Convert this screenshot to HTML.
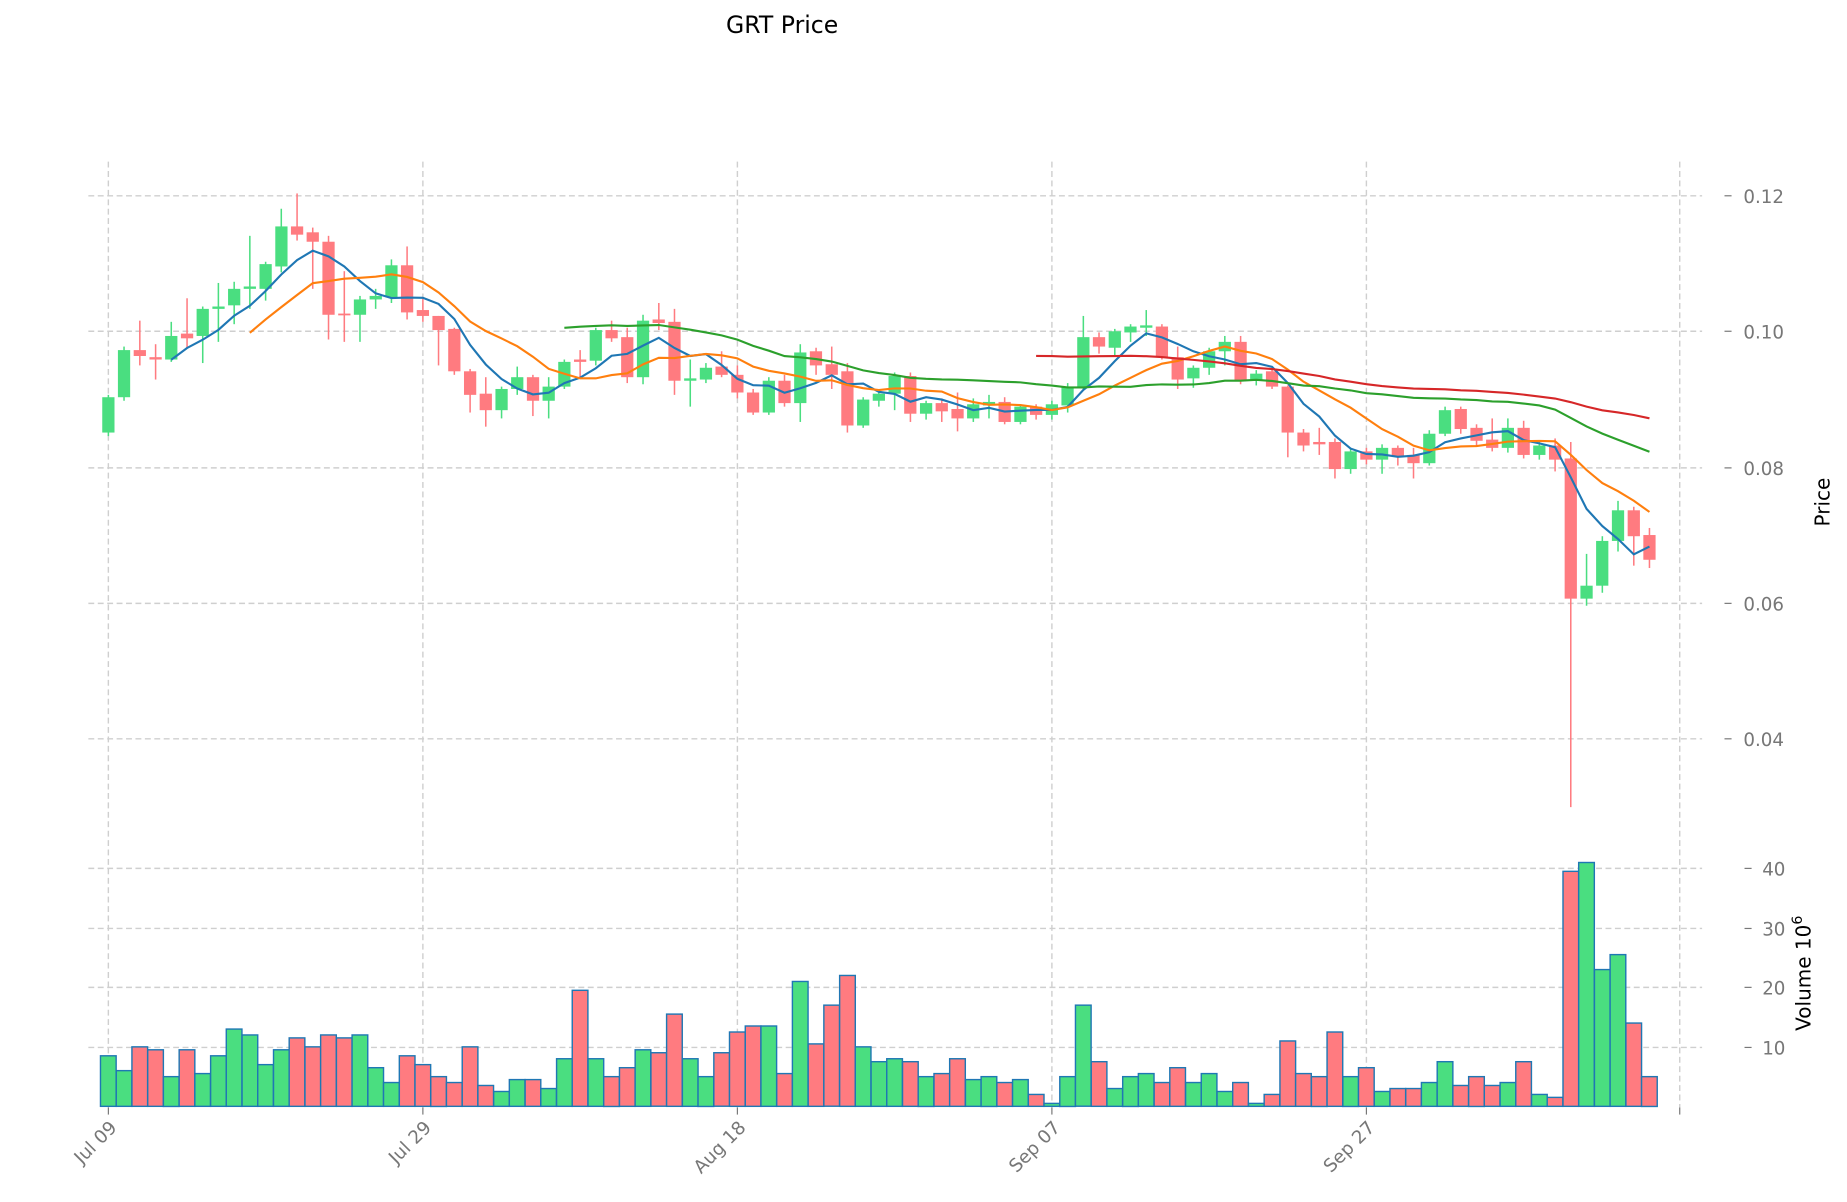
<!DOCTYPE html>
<html><head><meta charset="utf-8"><style>
html,body{margin:0;padding:0;background:#fff}
svg{display:block}
text{font-family:"DejaVu Sans","Liberation Sans",sans-serif}
</style></head><body>
<svg id="c" width="1847" height="1202" viewBox="0 0 1568 1020" xmlns="http://www.w3.org/2000/svg">
<rect width="1568" height="1020" fill="#fff"/>
<g id="grid" stroke="#cfcfcf" stroke-width="1.2" stroke-dasharray="5,3" fill="none">
<line x1="75" x2="1445" y1="166" y2="166"/>
<line x1="75" x2="1445" y1="281" y2="281"/>
<line x1="75" x2="1445" y1="397" y2="397"/>
<line x1="75" x2="1445" y1="512" y2="512"/>
<line x1="75" x2="1445" y1="627" y2="627"/>
<line x1="75" x2="1445" y1="737" y2="737"/>
<line x1="75" x2="1445" y1="788" y2="788"/>
<line x1="75" x2="1445" y1="838" y2="838"/>
<line x1="75" x2="1445" y1="889" y2="889"/>
<line x1="92" x2="92" y1="137" y2="940"/>
<line x1="359" x2="359" y1="137" y2="940"/>
<line x1="626" x2="626" y1="137" y2="940"/>
<line x1="893" x2="893" y1="137" y2="940"/>
<line x1="1160" x2="1160" y1="137" y2="940"/>
<line x1="1426" x2="1426" y1="137" y2="940"/>
</g>
<g id="plot"></g>
<g fill="#777" font-size="15.5">
<text x="1480" y="172">0.12</text>
<text x="1480" y="287">0.10</text>
<text x="1480" y="403">0.08</text>
<text x="1480" y="518">0.06</text>
<text x="1480" y="633">0.04</text>
<text x="1496" y="743">40</text>
<text x="1496" y="794">30</text>
<text x="1496" y="844">20</text>
<text x="1496" y="895">10</text>
</g>
<g stroke="#777" stroke-width="1">
<line x1="1464" x2="1470" y1="166" y2="166"/><line x1="1464" x2="1470" y1="281" y2="281"/>
<line x1="1464" x2="1470" y1="397" y2="397"/><line x1="1464" x2="1470" y1="512" y2="512"/>
<line x1="1464" x2="1470" y1="627" y2="627"/><line x1="1481" x2="1487" y1="737" y2="737"/>
<line x1="1481" x2="1487" y1="788" y2="788"/><line x1="1481" x2="1487" y1="838" y2="838"/>
<line x1="1481" x2="1487" y1="889" y2="889"/>
<line x1="92" x2="92" y1="940" y2="946"/><line x1="359" x2="359" y1="940" y2="946"/>
<line x1="626" x2="626" y1="940" y2="946"/><line x1="893" x2="893" y1="940" y2="946"/>
<line x1="1160" x2="1160" y1="940" y2="946"/><line x1="1426" x2="1426" y1="940" y2="946"/>
</g>
<g fill="#777" font-size="15.5" text-anchor="end">
<text transform="translate(100,958) rotate(-45)">Jul 09</text>
<text transform="translate(367,958) rotate(-45)">Jul 29</text>
<text transform="translate(634,958) rotate(-45)">Aug 18</text>
<text transform="translate(901,958) rotate(-45)">Sep 07</text>
<text transform="translate(1168,958) rotate(-45)">Sep 27</text>
</g>
<text x="664" y="28" font-size="20" text-anchor="middle" fill="#000">GRT Price</text>
<text transform="translate(1553,426) rotate(-90)" font-size="17" text-anchor="middle" fill="#000">Price</text>
<text transform="translate(1537,826) rotate(-90)" font-size="17" text-anchor="middle" fill="#000">Volume  10<tspan font-size="12" dy="-7">6</tspan></text>
</svg>
<script>
var D=[
[367,337,335,370,8.5],[337,297,294,340,6],[297,302,272,310,10],[303,305,292,322,9.5],[305,285,273,307,5],
[283,287,253,295,9.5],[285,262,260,308,5.5],[262,260,240,290,8.5],[259,245,239,275,13],[245,243,200,262,12],
[245,224,222,255,7],[226,192,177,231,9.5],[192,199,164,204,11.5],[197,205,193,245,10],[205,267,200,288,12],
[266,267,230,290,11.5],[267,254,251,290,12],[254,251,245,262,6.5],[252,225,220,257,4],[225,265,209,271,8.5],
[263,268,253,273,7],[268,280,268,310,5],[279,315,278,318,4],[315,335,313,350,10],[334,348,320,362,3.5],
[348,330,328,355,2.5],[330,320,311,335,4.5],[320,340,318,353,4.5],[340,328,320,355,3],[328,307,305,330,8],
[305,307,297,320,19.5],[306,280,278,310,8],[280,287,272,290,5],[286,320,278,325,6.5],[320,272,267,326,9.5],
[271,274,257,280,9],[273,323,262,335,15.5],[323,321,305,345,8],[322,312,308,325,5],[311,318,298,320,9],
[318,333,310,338,12.5],[333,350,330,352,13.5],[350,323,320,352,13.5],[323,342,318,345,5.5],[342,299,292,358,21],
[298,310,295,318,10.5],[309,318,294,330,17],[315,361,308,367,22],[361,339,337,363,10],[340,334,331,345,7.5],
[334,319,316,348,8],[319,351,316,358,7.5],[351,342,340,356,5],[342,349,338,358,5.5],[347,355,333,366,8],
[355,343,338,358,4.5],[344,341,335,355,5],[341,358,337,360,4],[358,345,343,360,4.5],[345,352,343,356,2],
[352,343,340,356,0.5],[344,328,325,350,5],[328,286,268,330,17],[286,294,282,300,7.5],[295,281,279,302,3],
[282,277,275,290,5],[278,276,263,285,5.5],[277,303,275,305,4],[303,322,294,330,6.5],[321,312,310,329,4],
[312,298,295,318,5.5],[298,290,285,310,2.5],[290,323,285,326,4],[323,317,314,327,0.5],[315,328,313,330,2],
[328,367,327,388,11],[367,378,364,383,5.5],[375,377,363,386,5],[375,398,372,406,12.5],[398,383,380,402,5],
[383,390,380,394,6.5],[390,380,377,402,2.5],[380,387,378,395,3],[386,393,380,406,3],[393,368,365,395,4],
[368,348,345,370,7.5],[347,364,345,368,3.5],[363,374,360,378,5],[373,380,355,383,3.5],[380,363,355,384,4],
[363,386,357,389,7.5],[386,378,374,390,2],[378,390,372,400,1.5],[389,508,375,685,39.5],[508,497,470,514,41],
[497,459,455,503,23],[459,433,425,468,25.5],[433,455,430,480,14],[454,475,448,482,5]];
var G="#4ade80",R="#ff7b80",s="",dx=13.35,w=10.4;
function X(i){return 92+dx*i;}
for(var i=0;i<D.length;i++){var d=D[i],up=d[1]<d[0],h=d[4]*5.05;
s+='<rect x="'+(X(i)-dx/2).toFixed(1)+'" y="'+(939-h).toFixed(1)+'" width="'+dx.toFixed(1)+'" height="'+h.toFixed(1)+'" fill="'+(up?G:R)+'" stroke="#1f77b4" stroke-width="1.2"/>';}
for(var i=0;i<D.length;i++){var d=D[i],up=d[1]<d[0],c=up?G:R,x=X(i);
var t=Math.min(d[0],d[1]),b=Math.max(d[0],d[1]);if(b-t<1.5){b=t+1.5;}
s+='<line x1="'+x.toFixed(1)+'" x2="'+x.toFixed(1)+'" y1="'+d[2]+'" y2="'+d[3]+'" stroke="'+c+'" stroke-width="1.3"/>';
s+='<rect x="'+(x-w/2).toFixed(1)+'" y="'+t+'" width="'+w+'" height="'+(b-t)+'" fill="'+c+'"/>';}
function ma(n,col){var p=[];for(var i=n-1;i<D.length;i++){var sm=0;for(var k=i-n+1;k<=i;k++)sm+=D[k][1];p.push(X(i).toFixed(1)+','+(sm/n).toFixed(1));}
s+='<polyline points="'+p.join(' ')+'" fill="none" stroke="'+col+'" stroke-width="1.8"/>';}
ma(5,"#1f77b4");ma(10,"#ff7f0e");ma(30,"#2ca02c");ma(60,"#d62728");
document.getElementById("plot").innerHTML=s;
</script>
</body></html>
